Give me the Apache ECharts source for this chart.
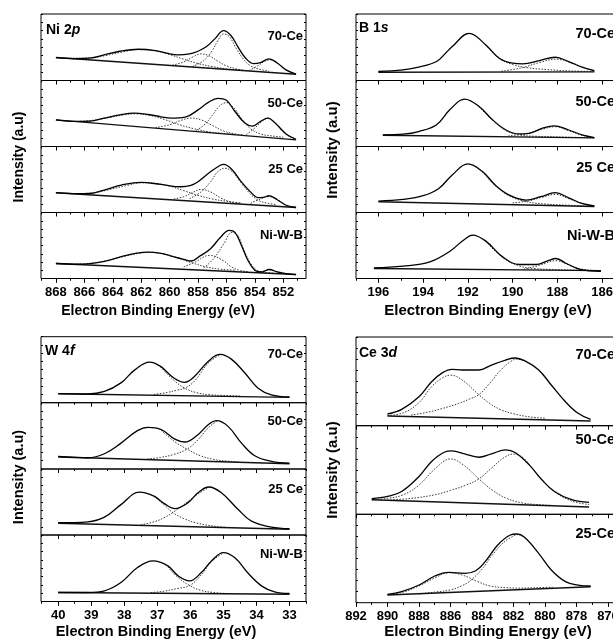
<!DOCTYPE html>
<html>
<head>
<meta charset="utf-8">
<script src="https://cdn.jsdelivr.net/npm/echarts@6/dist/echarts.min.js"></script>
<style>
html, body { margin: 0; padding: 0; background: #fff; }
#chart { width: 613px; height: 642px; }
</style>
</head>
<body>
<div id="chart"></div>
<script>
/*--- tick labels ---*/
var niTicks = [868, 866, 864, 862, 860, 858, 856, 854, 852];
var bTicks = [196, 194, 192, 190, 188, 186];
var wTicks = [40, 39, 38, 37, 36, 35, 34, 33];
var ceTicks = [892, 890, 888, 886, 884, 882, 880, 878, 876];

var niSamples = ['70-Ce', '50-Ce', '25 Ce', 'Ni-W-B'];
var bSamples = ['70-Ce', '50-Ce', '25 Ce', 'Ni-W-B'];
var wSamples = ['70-Ce', '50-Ce', '25 Ce', 'Ni-W-B'];
var ceSamples = ['70-Ce', '50-Ce', '25-Ce'];

/*--- Ni 2p : [binding energy, intensity (% of sub-panel)] ---*/
var ni70Env = [[868,34.5],[866.5,33],[865.5,34],[864.6,38.5],[863.5,44],[862.2,47],[861,45],[860.2,41],[859.4,38.5],[858.6,40],[858,44],[857.4,51],[856.8,63],[856.2,75],[855.7,68],[855.2,51],[854.7,35],[854.1,25.5],[853.6,27],[853,32.5],[852.4,26],[851.8,16],[851.1,9.5]];
var ni70Bg = [[868,34.5],[851.1,9.5]];
var ni70C1 = [[867,33.5],[865.5,34],[864.5,37.5],[863.3,43],[862.2,46.5],[861,44.5],[860,39],[859,32],[858,25.5],[857,21],[856,17.5],[855,15.5]];
var ni70C2 = [[859.8,23],[859,28],[858.4,35],[857.8,40],[857.2,37],[856.6,29],[856,22],[855.3,17.5],[854.7,15]];
var ni70C3 = [[858.4,21],[857.6,30],[857,45],[856.6,60],[856.2,70],[855.8,66],[855.3,48],[854.8,32],[854.3,22],[853.7,17],[853,14]];
var ni70C4 = [[854.4,15],[853.8,22],[853.3,29],[852.9,31],[852.4,26],[851.9,17],[851.5,12],[851.1,10]];

var ni50Env = [[868,40.4],[866.5,38],[865.6,38.5],[864.6,43],[863.5,48],[862.5,50.5],[861.5,48.5],[860.6,45],[859.9,43],[858.9,44.5],[858,55.5],[857.3,66.5],[856.6,73],[856,70],[855.4,53],[854.7,35.5],[854.2,31],[853.6,38],[853.1,43],[852.5,34],[851.8,19],[851.1,11]];
var ni50Bg = [[868,40.4],[851.1,10]];
var ni50C1 = [[866.5,38],[865.3,40],[864.2,44],[863.2,48],[862.4,49.5],[861.4,47],[860.3,40.5],[859.3,33],[858.3,27],[857.3,22.5],[856.3,20],[855.3,18]];
var ni50C2 = [[861,28.5],[860,33],[859.2,39.5],[858.5,43],[857.8,40.5],[857,32],[856.2,23.5],[855.5,19.5],[854.8,17.5]];
var ni50C3 = [[858.3,22.5],[857.6,32],[857,47],[856.5,61],[856,66.5],[855.5,59],[854.9,41],[854.3,27],[853.6,19],[852.8,16],[852,14]];
var ni50C4 = [[854.6,18],[854,28],[853.5,38],[853.1,43],[852.6,36],[852,22],[851.5,14],[851.1,11]];

var ni25Env = [[868,30],[866.5,28.5],[865.6,28.8],[864.6,34],[863.4,41.5],[862,45.7],[860.6,42.5],[859.2,39],[858.5,41],[858,46.5],[857.1,62],[856.4,72],[856.2,73],[855.65,66],[854.95,46.5],[854.2,29],[853.8,22.5],[853.4,23],[853,25.4],[852.4,19],[851.8,11],[851.1,7.6]];
var ni25Bg = [[868,30],[851.1,7.6]];
var ni25C1 = [[866.5,28.5],[865.3,30],[864.3,34.5],[863,41],[862,45],[861,44],[860,40],[859,33],[858,26],[857,20.5],[856,17],[855,14.5]];
var ni25C2 = [[859.7,20.5],[859,24],[858.4,30],[857.8,35],[857.1,31],[856.4,22],[855.7,16],[855,13.5]];
var ni25C3 = [[858.6,21],[857.8,31],[857.1,47],[856.6,62],[856.1,67],[855.6,62],[855,46],[854.4,30],[853.8,19],[853.1,14],[852.5,12]];
var ni25C4 = [[854.3,14],[853.6,20.5],[853,24],[852.4,19],[851.8,11],[851.1,7.8]];

var niWEnv = [[868,22.7],[866.5,21.6],[865.6,22.5],[864.6,26],[863.4,33],[862.3,38.5],[861.5,40],[860.6,38],[859.9,34],[859,29],[858.5,26.5],[857.8,35],[857.1,45.5],[856.4,63],[855.8,73],[855.4,70],[854.95,50.5],[854.5,28],[854,12.6],[853.5,10],[853,13.6],[852.4,10],[851.8,7.5],[851.1,6]];
var niWBg = [[868,22.7],[851.1,6]];
var niWC1 = [[866.5,21.8],[865,24.5],[863.5,32],[862.2,38],[861.4,39.5],[860.4,37],[859.4,31],[858.4,23.5],[857.4,17.5],[856.4,14],[855.4,12.5]];
var niWC2 = [[859,17.5],[858.2,25],[857.2,35],[856.3,28],[855.6,17],[855,12],[854.4,10]];
var niWC3 = [[857.6,16],[856.9,30],[856.2,52],[855.6,70],[855.2,65],[854.8,45],[854.3,23],[853.8,12],[853.2,9],[852.6,8]];
var niWC4 = [[853.6,9],[853,13.4],[852.5,10],[852,7.3]];

/*--- B 1s ---*/
var b70Env = [[196,13.5],[194.9,16],[194.2,20],[193.4,28.5],[193,41],[192.7,51],[191.94,71],[191.2,53.5],[190.6,33.5],[190,26],[189.55,25],[188.8,30],[188.1,35],[187.5,28.5],[186.9,20],[186.35,15]];
var b70Bg = [[196,12.5],[186.35,13]];
var b70C1 = [[190.5,14],[189.6,19],[188.8,27],[188.1,32],[187.4,27],[186.8,19],[186.35,14.5]];
var b70C2 = [[191.2,53],[190.6,33],[190,24],[189.3,19],[188.5,16.5],[187.5,14.5],[186.35,13.5]];

var b50Env = [[195.8,17.7],[194.9,18.7],[194.2,22.7],[193.4,33],[192.8,56],[192.15,71.7],[191.5,60.6],[190.9,40.4],[190.3,25],[189.7,19],[189.26,20],[188.66,27.8],[188.15,31.3],[187.5,25],[186.9,17.7],[186.35,13.6]];
var b50Bg = [[195.8,17],[186.35,13]];
var b50C1 = [[190.2,16],[189.4,19.5],[188.7,26],[188.1,30],[187.5,24],[186.9,17],[186.35,13.5]];
var b50C2 = [[191.5,60],[190.9,40],[190.3,24],[189.7,17.5],[189,15.5],[188,14.5],[186.35,13.2]];

var b25Env = [[196,17.3],[194.9,19.8],[194,25.4],[193.3,36.5],[192.7,57],[192,73.6],[191.35,62],[190.75,40.6],[190.15,26.4],[189.4,18.8],[188.74,23.9],[188.1,30],[187.5,22.3],[186.9,13.7],[186.35,10]];
var b25Bg = [[196,16.2],[186.35,9.1]];
var b25C1 = [[190,14.5],[189.3,17.5],[188.7,23],[188.1,27.5],[187.5,21],[186.9,13.5],[186.35,10]];
var b25C2 = [[191.35,61],[190.75,40],[190.15,25],[189.4,16.5],[188.6,13],[187.5,11],[186.35,9.5]];

var bWEnv = [[196.2,16.2],[194.9,18.7],[193.7,25.3],[192.8,41.4],[192.2,58],[191.79,65.7],[191.2,56.6],[190.45,32.8],[189.7,21.2],[188.96,21.2],[188.44,26.8],[188.07,30.3],[187.6,22.7],[187,14],[186.06,11]];
var bWBg = [[196.2,15.2],[186.06,12]];
var bWC1 = [[189.5,14],[188.8,20],[188.07,27],[187.5,21],[187,15],[186.5,12.5],[186.06,11.5]];
var bWC2 = [[191.2,56],[190.45,32],[189.7,19],[189,15],[188,13.5],[187,12.5],[186.06,11.5]];

/*--- W 4f ---*/
var w70Env = [[40,13.6],[39.1,13.2],[38.6,17],[38.1,30],[37.7,49],[37.23,61.6],[36.9,55],[36.5,37.4],[36.17,30.8],[35.87,40],[35.46,62.6],[35.1,73.2],[34.76,66],[34.35,45],[33.95,22],[33.55,12],[33,8.6]];
var w70Bg = [[40,13.6],[33,8]];
var w70C1 = [[36.9,54],[36.5,34],[36.17,22],[35.8,15],[35.4,12],[35,11],[34.5,10.2]];
var w70C2 = [[37.1,12.5],[36.7,15.5],[36.4,19],[36.17,22],[35.87,33],[35.46,60],[35.1,72.5]];

var w50Env = [[40,19],[39.1,17],[38.6,23],[38.1,39],[37.6,57.8],[37.28,62.8],[36.88,59.3],[36.47,45],[36.17,40.7],[35.77,51.8],[35.46,66.8],[35.2,72.9],[34.86,64.3],[34.45,39],[34.05,20],[33.55,11.6],[33,9]];
var w50Bg = [[40,18],[33,8]];
var w50C1 = [[36.88,58],[36.47,41],[36.1,30],[35.7,20],[35.3,14.5],[34.9,12],[34.5,10.5]];
var w50C2 = [[37.3,15],[36.9,17.5],[36.5,22],[36.1,30],[35.77,44],[35.46,62],[35.2,72]];

var w25Env = [[40,18.7],[39.1,20],[38.6,27],[38.1,46],[37.54,65],[37.1,59],[36.8,48],[36.47,40],[36.07,49],[35.77,64],[35.44,72.7],[35.06,64],[34.56,39],[34.15,21],[33.55,12],[33,9.6]];
var w25Bg = [[40,17.7],[33,8.6]];
var w25C1 = [[37.1,58.5],[36.8,46],[36.53,34],[36.2,25],[35.8,18],[35.3,13.5],[34.9,11.5]];
var w25C2 = [[37.5,15.5],[37.1,20],[36.8,26],[36.53,34],[36.2,46],[35.77,62],[35.44,72]];

var wWEnv = [[40,13.5],[39.1,13.5],[38.6,16],[38.1,28.5],[37.6,51],[37.13,61],[36.68,53.5],[36.37,38.5],[36.02,31],[35.67,43.5],[35.36,61],[35,73.5],[34.66,66],[34.25,42.5],[33.85,23.5],[33.45,14.5],[33,12]];
var wWBg = [[40,13.5],[33,11]];
var wWC1 = [[36.68,52],[36.37,36],[36.02,24],[35.7,17],[35.3,13.5],[34.9,12]];
var wWC2 = [[37.2,13.3],[36.8,15.5],[36.4,19.5],[36.02,24],[35.67,40],[35.36,60],[35,73]];

/*--- Ce 3d ---*/
var ce70Env = [[890,13.2],[889.1,18.4],[888,32.7],[887.2,49.6],[886.5,59.8],[885.9,63.5],[885.3,62.8],[884.2,62.8],[883.4,68.4],[882.5,74],[881.9,76.3],[881.3,73.3],[880.4,62.8],[879.6,45.9],[878.7,27],[877.9,14],[877.1,7.1]];
var ce70Bg = [[890,10.9],[877.1,5.3]];
var ce70C1 = [[890,11.5],[889,14.5],[888,26],[887.2,44],[886.5,54],[886,57],[885.3,52],[884.2,35],[883.5,25],[882.8,18],[882,13.5],[881,10],[880,8.5]];
var ce70C2 = [[888.5,12],[887.5,15],[886.5,19.5],[885.5,25],[884.8,30],[884.2,35],[883.5,48],[882.8,63],[882.2,72],[881.8,75],[881.3,73]];

var ce50Env = [[891,17.6],[890,20.2],[889.1,25.8],[888,42.7],[887.2,59.6],[886.4,70],[885.9,71.5],[885.1,68.2],[884.2,64.4],[883.4,68.2],[882.5,72.7],[881.9,69.7],[881,55.8],[880.2,39],[879.4,25.8],[878.3,16.5],[877.2,13.5]];
var ce50Bg = [[891,16.5],[877.2,8.2]];
var ce50C1 = [[891,16.5],[890,18],[889,22],[888,33],[887,51],[886,62.5],[885.2,56],[884.2,40],[883.4,28],[882.5,18.5],[881.5,13],[880.5,11],[879.5,10]];
var ce50C2 = [[890,16],[888.5,18],[887,22],[886,27],[885,33],[884.2,40],[883.4,52],[882.6,64],[882,68],[881.4,64],[881,56],[880.2,39],[879.4,25.5],[878.3,15],[877.2,11]];

var ce25Env = [[890,9.4],[889.1,12.5],[888,20],[887,30.2],[886.1,34.3],[885.1,33.2],[884.4,36.2],[883.8,46.4],[883,65.3],[882.2,76.6],[881.8,77.7],[881.3,74],[880.4,55.8],[879.6,37],[878.7,23.8],[877.9,20],[877.1,18.9]];
var ce25Bg = [[890,8.7],[877.1,18.1]];
var ce25C1 = [[890,9],[889,12],[888,19],[887,28],[886.1,34],[885.2,31],[884.3,24],[883.5,19],[882.5,17],[881.5,16.5],[880.5,17],[879.5,17.5]];
var ce25C2 = [[888,10],[887,12],[886,14.5],[885.3,19],[884.8,24],[884,38],[883.3,55],[882.5,70],[881.8,77]];

/*--- layout of the four blocks ---*/
var FONT = '"Liberation Sans", Arial, sans-serif';

var panels = [{
	title: ['Ni 2', 'p'], tx: 46, ty: 30,
	left: 41, width: 265, min: 850.4, max: 869.05,
	tops: [14, 80.5, 146.5, 212.5, 278.5],
	ticks: niTicks, samples: niSamples, labelDy: [22, 23, 23, 23],
	labelRight: 303, labelSize: 13, nameSize: 14,
	subs: [
		{ env: ni70Env, bg: ni70Bg, comps: [ni70C1, ni70C2, ni70C3, ni70C4] },
		{ env: ni50Env, bg: ni50Bg, comps: [ni50C1, ni50C2, ni50C3, ni50C4] },
		{ env: ni25Env, bg: ni25Bg, comps: [ni25C1, ni25C2, ni25C3, ni25C4] },
		{ env: niWEnv, bg: niWBg, comps: [niWC1, niWC2, niWC3, niWC4] }
	],
	xName: [158, 311], yName: [19, 157]
}, {
	title: ['B 1', 's'], tx: 359, ty: 28,
	left: 356, width: 263, min: 185.25, max: 197,
	tops: [14, 80.5, 146.5, 212.5, 278.5],
	ticks: bTicks, samples: bSamples, labelDy: [20, 21, 21, 23],
	labelRight: 615, labelSize: 14.5, nameSize: 15,
	subs: [
		{ env: b70Env, bg: b70Bg, comps: [b70C1, b70C2] },
		{ env: b50Env, bg: b50Bg, comps: [b50C1, b50C2] },
		{ env: b25Env, bg: b25Bg, comps: [b25C1, b25C2] },
		{ env: bWEnv, bg: bWBg, comps: [bWC1, bWC2] }
	],
	xName: [488, 311], yName: [333, 150]
}, {
	title: ['W 4', 'f'], tx: 45, ty: 351,
	left: 41, width: 265, min: 32.5, max: 40.52,
	tops: [336.7, 402.7, 469, 535, 601.5],
	ticks: wTicks, samples: wSamples, labelDy: [18, 19, 20, 19],
	labelRight: 303, labelSize: 13, nameSize: 14.5,
	subs: [
		{ env: w70Env, bg: w70Bg, comps: [w70C1, w70C2] },
		{ env: w50Env, bg: w50Bg, comps: [w50C1, w50C2] },
		{ env: w25Env, bg: w25Bg, comps: [w25C1, w25C2] },
		{ env: wWEnv, bg: wWBg, comps: [wWC1, wWC2] }
	],
	xName: [156, 632], yName: [19, 477]
}, {
	title: ['Ce 3', 'd'], tx: 359, ty: 353,
	left: 356, width: 263, min: 875.3, max: 892,
	tops: [337, 425.7, 514.3, 602.7],
	ticks: ceTicks, samples: ceSamples, labelDy: [18, 14, 20],
	labelRight: 615, labelSize: 14.5, nameSize: 15,
	subs: [
		{ env: ce70Env, bg: ce70Bg, comps: [ce70C1, ce70C2] },
		{ env: ce50Env, bg: ce50Bg, comps: [ce50C1, ce50C2] },
		{ env: ce25Env, bg: ce25Bg, comps: [ce25C1, ce25C2] }
	],
	xName: [488, 632], yName: [333, 470]
}];

function minorOf(ticks, min, max) {
	var out = [];
	var step = Math.abs(ticks[1] - ticks[0]);
	for (var v = ticks[0] + step / 2; v >= min; v -= step) {
		if (v <= max) out.push(v);
	}
	return out;
}

function makeX(gi, p, pos, values, len, withLabels) {
	return {
		type: 'value', gridIndex: gi, position: pos,
		min: p.min, max: p.max, inverse: true,
		axisLine: { show: false },
		splitLine: { show: false },
		axisTick: { show: true, inside: pos === 'top', length: len, customValues: values,
			lineStyle: { color: '#000', width: 1 } },
		axisLabel: withLabels ? {
			show: true, customValues: values, margin: 7,
			color: '#000', fontSize: 13, fontWeight: 'bold', fontFamily: FONT
		} : { show: false }
	};
}

function makeY(gi, pos) {
	return {
		type: 'value', gridIndex: gi, position: pos, min: 0, max: 100, interval: 12.5,
		axisLine: { show: false },
		splitLine: { show: false },
		axisLabel: { show: false },
		axisTick: { show: true, inside: true, length: 2, lineStyle: { color: '#000' } }
	};
}

var grids = [], xAxes = [], yAxes = [], series = [], graphics = [];

panels.forEach(function(p) {
	var minor = minorOf(p.ticks, p.min, p.max);
	var n = p.subs.length;
	p.subs.forEach(function(s, k) {
		var gi = grids.length;
		var top = p.tops[k];
		var h = p.tops[k + 1] - top;
		grids.push({
			left: p.left, top: top, width: p.width, height: h,
			outerBoundsMode: 'none', containLabel: false,
			show: true, borderColor: '#000', borderWidth: 1, backgroundColor: 'transparent'
		});
		var xi = xAxes.length;
		xAxes.push(makeX(gi, p, 'top', p.ticks, 4, false));
		xAxes.push(makeX(gi, p, 'top', minor, 2, false));
		if (k === n - 1) {
			xAxes.push(makeX(gi, p, 'bottom', p.ticks, 4, true));
			xAxes.push(makeX(gi, p, 'bottom', minor, 2, false));
		}
		var yi = yAxes.length;
		yAxes.push(makeY(gi, 'left'));
		yAxes.push(makeY(gi, 'right'));

		series.push({
			type: 'line', xAxisIndex: xi, yAxisIndex: yi, data: s.bg,
			symbol: 'none', silent: true, z: 3,
			lineStyle: { color: '#111', width: 1.4 }
		});
		s.comps.forEach(function(c) {
			series.push({
				type: 'line', xAxisIndex: xi, yAxisIndex: yi, data: c,
				symbol: 'none', silent: true, smooth: 0.4, z: 2,
				lineStyle: { color: '#3a3a3a', width: 1, type: [1.5, 1.5] }
			});
		});
		series.push({
			type: 'line', xAxisIndex: xi, yAxisIndex: yi, data: s.env,
			symbol: 'none', silent: true, smooth: 0.4, z: 4,
			lineStyle: { color: '#000', width: 1.3 }
		});

		graphics.push({
			type: 'text', x: p.labelRight, y: top + p.labelDy[k],
			style: { text: p.samples[k], fill: '#000', align: 'right', verticalAlign: 'middle',
				font: 'bold ' + p.labelSize + 'px ' + FONT }
		});
	});

	graphics.push({
		type: 'text', x: p.tx, y: p.ty,
		style: {
			text: '{a|' + p.title[0] + '}{b|' + p.title[1] + '}',
			verticalAlign: 'middle',
			rich: {
				a: { fontSize: 14, fontWeight: 'bold', fontFamily: FONT, fill: '#000', color: '#000' },
				b: { fontSize: 14, fontWeight: 'bold', fontStyle: 'italic', fontFamily: FONT, fill: '#000', color: '#000' }
			}
		}
	});
	graphics.push({
		type: 'text', x: p.xName[0], y: p.xName[1],
		style: { text: 'Electron Binding Energy (eV)', fill: '#000', align: 'center', verticalAlign: 'middle',
			font: 'bold ' + p.nameSize + 'px ' + FONT }
	});
	graphics.push({
		type: 'text', x: p.yName[0], y: p.yName[1], rotation: Math.PI / 2,
		style: { text: 'Intensity (a.u)', fill: '#000', align: 'center', verticalAlign: 'middle',
			font: 'bold ' + p.nameSize + 'px ' + FONT }
	});
});

var myChart = echarts.init(document.getElementById('chart'));
var option = {
	animation: false,
	backgroundColor: '#fff',
	grid: grids,
	xAxis: xAxes,
	yAxis: yAxes,
	series: series,
	graphic: graphics
};
myChart.setOption(option);
</script>
</body>
</html>
